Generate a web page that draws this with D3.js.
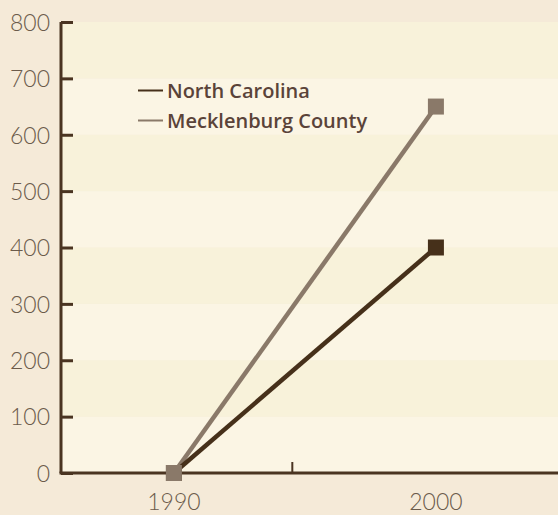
<!DOCTYPE html>
<html><head><meta charset="utf-8">
<script src="https://cdn.jsdelivr.net/npm/d3@7"></script>
<style>
html,body{margin:0;padding:0;background:#f5ead8;}
svg{display:block;}
</style></head>
<body>
<script>
const years = [1990, 2000];
const seriesNames = ["North Carolina", "Mecklenburg County"];
const northCarolina = [0, 400];
const mecklenburg = [0, 650];
const yTicks = [0, 100, 200, 300, 400, 500, 600, 700, 800];
const xTickMarks = [1994.5];
const seriesColors = ["#46301a", "#8a7969"];

(function () {
const W = 558, H = 515;
const svg = d3.select("body").append("svg").attr("width", W).attr("height", H);
svg.append("rect").attr("width", W).attr("height", H).attr("fill", "#f5ead8");

const pL = 61, pR = 558, pT = 22, pB = 473;
const x = d3.scaleLinear().domain([1985.69, 2004.66]).range([pL, pR]);
const y = d3.scaleLinear().domain([0, 800]).range([pB, pT]);

// bands
const bands = d3.range(0, 800, 100);
svg.selectAll("rect.band").data(bands).join("rect")
  .attr("x", pL).attr("width", pR - pL)
  .attr("y", d => y(d + 100)).attr("height", d => y(d) - y(d + 100))
  .attr("fill", d => ((d / 100) % 2 === 1) ? "#f8f2da" : "#fbf5e4");

// y axis
const yAxis = d3.axisLeft(y).tickValues(yTicks).tickSize(-12).tickPadding(20).tickFormat(d3.format("d"));
const gy = svg.append("g").attr("transform", `translate(${pL},0)`).call(yAxis);
gy.select(".domain").attr("stroke", "#4a3421").attr("stroke-width", 3).attr("d", `M0,${pT}V${pB}`);
gy.selectAll(".tick line").attr("stroke", "#4a3421").attr("stroke-width", 3);
gy.selectAll(".tick text").attr("font-family", "Lato").attr("font-weight", 300).attr("font-size", 23)
  .attr("fill", "#6b5b4b").attr("dy", "0.36em").attr("x", -11);

// x axis
const xAxis = d3.axisBottom(x).tickValues(xTickMarks).tickSize(-11).tickFormat("");
const gx = svg.append("g").attr("transform", `translate(0,${pB})`).call(xAxis);
gx.select(".domain").attr("stroke", "#4a3421").attr("stroke-width", 3).attr("d", `M${pL - 1.5},0H${pR}`);
gx.selectAll(".tick line").attr("stroke", "#4a3421").attr("stroke-width", 2);
svg.selectAll("text.xl").data(years).join("text")
  .attr("x", d => x(d)).attr("y", 510).attr("text-anchor", "middle")
  .attr("font-family", "Lato").attr("font-weight", 300).attr("font-size", 23)
  .attr("fill", "#6b5b4b").text(d => d);

// lines
const data = [northCarolina, mecklenburg];
const line = d3.line().x((d, i) => x(years[i])).y(d => y(d));
[1, 0].forEach(s => {
  svg.append("path").attr("d", line(data[s])).attr("fill", "none")
    .attr("stroke", seriesColors[s]).attr("stroke-width", 4.5);
});
[0, 1].forEach(s => {
  svg.selectAll(null).data(data[s]).join("rect")
    .attr("x", (d, i) => x(years[i]) - 8).attr("y", d => y(d) - 8)
    .attr("width", 16).attr("height", 16).attr("fill", seriesColors[s]);
});

// legend
const lg = svg.append("g");
seriesNames.forEach((n, i) => {
  const yy = 90.5 + i * 30;
  lg.append("line").attr("x1", 138).attr("x2", 163).attr("y1", yy).attr("y2", yy)
    .attr("stroke", seriesColors[i]).attr("stroke-width", 2);
  lg.append("text").attr("x", 167).attr("y", yy).attr("dy", "0.36em")
    .attr("font-family", "Open Sans").attr("font-weight", 600).attr("font-size", 20)
    .attr("fill", "#5a4339").text(n);
});
})();
</script>
</body></html>
